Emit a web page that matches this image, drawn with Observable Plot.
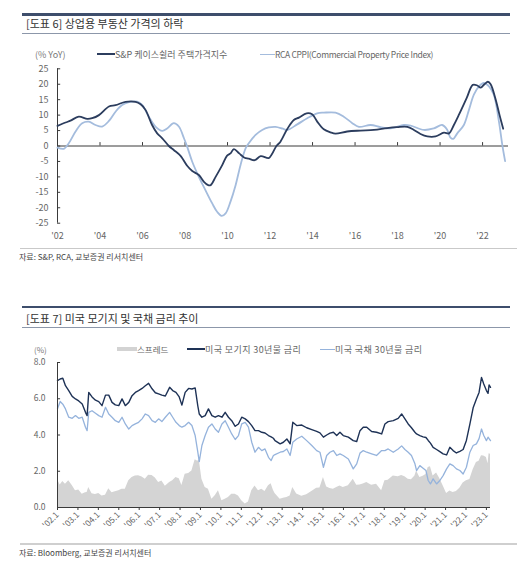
<!DOCTYPE html>
<html><head><meta charset="utf-8">
<script src="https://cdn.jsdelivr.net/npm/d3@7"></script>
<script src="https://cdn.jsdelivr.net/npm/@observablehq/plot@0.6"></script>
<style>
body{margin:0;background:#fff;font-family:"Noto Sans CJK KR","Noto Sans",sans-serif;}
#root{position:relative;width:530px;height:570px;overflow:hidden;background:#fff;}
</style></head><body><div id="root"></div>
<script>
// ---------- Chart 6 data: YoY % ----------
const csYear = [2002.0, 2002.38, 2002.61, 2003.0, 2003.4, 2003.63, 2003.95, 2004.42, 2004.73, 2005.2, 2005.67, 2005.91, 2006.14, 2006.45, 2006.69, 2006.93, 2007.24, 2007.47, 2007.79, 2008.1, 2008.34, 2008.65, 2008.89, 2009.09, 2009.2, 2009.44, 2009.75, 2009.98, 2010.14, 2010.3, 2010.55, 2010.8, 2011.0, 2011.28, 2011.56, 2011.94, 2012.1, 2012.3, 2012.49, 2012.81, 2013.12, 2013.36, 2013.72, 2013.98, 2014.22, 2014.53, 2014.85, 2015.08, 2015.63, 2016.26, 2016.89, 2017.51, 2017.98, 2018.46, 2018.77, 2019.08, 2019.4, 2019.79, 2020.18, 2020.42, 2020.65, 2020.9, 2021.25, 2021.54, 2021.75, 2021.91, 2022.09, 2022.25, 2022.38, 2022.6, 2022.8, 2022.97];
const csValue = [6.5, 7.6, 8.2, 9.5, 8.8, 9.0, 10.0, 12.8, 13.2, 14.3, 14.3, 13.5, 11.7, 6.8, 4.1, 2.5, 0, -1.3, -3.2, -6.4, -8.1, -9.4, -11.6, -12.7, -12.7, -10.0, -6.2, -3.1, -2.4, -1.0, -2.4, -3.8, -4.1, -4.6, -3.3, -3.9, -2.5, 0, 1.4, 5.5, 8.4, 9.2, 10.6, 10.3, 7.9, 5.4, 4.4, 4.0, 4.7, 5.0, 5.2, 5.8, 6.1, 6.2, 5.2, 3.9, 3.1, 3.1, 4.3, 4.1, 6.8, 10.3, 15.5, 19.8, 19.6, 18.9, 20.0, 20.8, 20.0, 15.5, 10.0, 5.6];
const rcaYear = [2002.0, 2002.3, 2002.53, 2002.85, 2003.16, 2003.47, 2003.79, 2004.1, 2004.42, 2004.73, 2005.04, 2005.36, 2005.75, 2005.98, 2006.3, 2006.61, 2006.93, 2007.16, 2007.47, 2007.71, 2007.95, 2008.1, 2008.34, 2008.65, 2008.96, 2009.28, 2009.51, 2009.72, 2009.91, 2010.14, 2010.38, 2010.61, 2010.85, 2011.0, 2011.32, 2011.63, 2011.94, 2012.26, 2012.6, 2012.81, 2013.28, 2013.75, 2014.22, 2014.53, 2015.08, 2015.47, 2015.87, 2016.18, 2016.73, 2017.2, 2017.67, 2018.3, 2018.61, 2019.24, 2019.71, 2020.1, 2020.34, 2020.49, 2020.62, 2020.81, 2021.12, 2021.36, 2021.59, 2021.83, 2022.06, 2022.3, 2022.53, 2022.77, 2022.93, 2023.06];
const rcaValue = [-0.5, -0.9, 0.9, 4.7, 7.4, 7.9, 6.8, 6.3, 8.1, 11.1, 13.3, 14.2, 14.4, 13.3, 9.5, 6.3, 4.9, 5.7, 7.4, 6.3, 2.5, -0.2, -5.1, -10.0, -14.3, -18.6, -21.3, -22.6, -21.8, -18.0, -12.7, -6.2, -0.8, 0.9, 3.6, 5.2, 6.0, 6.2, 5.6, 5.2, 7.0, 9.0, 10.6, 10.8, 10.8, 9.5, 7.4, 6.2, 6.8, 6.1, 5.7, 6.8, 6.6, 5.2, 5.7, 6.8, 5.2, 2.7, 2.3, 4.1, 6.8, 11.7, 16.6, 19.3, 20.4, 19.3, 16.6, 7.9, 0.3, -4.9];
const chart6XTicks = [2002, 2004, 2006, 2008, 2010, 2012, 2014, 2016, 2018, 2020, 2022];
const chart6YTicks = [-25, -20, -15, -10, -5, 0, 5, 10, 15, 20, 25];

// ---------- Chart 7 data: rates % ----------
const rateYear = [2002.0, 2002.13, 2002.26, 2002.39, 2002.55, 2002.72, 2002.88, 2003.04, 2003.21, 2003.37, 2003.45, 2003.53, 2003.69, 2003.86, 2004.02, 2004.18, 2004.35, 2004.51, 2004.67, 2004.83, 2005.0, 2005.16, 2005.32, 2005.49, 2005.65, 2005.81, 2005.97, 2006.14, 2006.3, 2006.46, 2006.63, 2006.79, 2006.95, 2007.11, 2007.28, 2007.49, 2007.64, 2007.8, 2007.96, 2008.09, 2008.25, 2008.42, 2008.58, 2008.74, 2008.87, 2008.94, 2009.07, 2009.23, 2009.39, 2009.56, 2009.72, 2009.88, 2010.05, 2010.21, 2010.37, 2010.53, 2010.7, 2010.86, 2011.02, 2011.19, 2011.35, 2011.51, 2011.67, 2011.84, 2012.0, 2012.16, 2012.33, 2012.46, 2012.57,
  2012.65, 2012.9, 2013.06, 2013.23, 2013.39, 2013.52, 2013.71, 2013.96, 2014.2, 2014.45, 2014.69, 2014.85, 2015.02, 2015.18, 2015.34, 2015.51, 2015.67, 2015.83, 2015.99, 2016.24, 2016.48, 2016.65, 2016.81, 2016.97, 2017.14, 2017.38, 2017.62, 2017.87, 2018.03, 2018.19, 2018.44, 2018.68, 2018.85, 2019.01, 2019.17, 2019.33, 2019.5, 2019.58, 2019.74, 2019.9, 2020.04, 2020.15, 2020.26, 2020.39, 2020.56, 2020.72, 2020.88, 2021.05, 2021.21, 2021.37, 2021.53, 2021.7, 2021.86, 2022.02, 2022.19, 2022.35, 2022.51, 2022.64, 2022.76, 2022.87, 2023.0, 2023.08, 2023.13, 2023.2];
const mortgage30 = [7.0, 7.09, 7.13, 6.72, 6.45, 6.13, 5.99, 5.88, 5.71, 5.25, 5.07, 6.35, 6.1, 5.92, 5.84, 5.62, 6.2, 6.2, 5.8, 5.66, 5.62, 5.99, 5.62, 5.8, 6.17, 6.35, 6.45, 6.57, 6.72, 6.85, 6.55, 6.33, 6.27, 6.2, 6.15, 6.63, 6.45, 6.35, 6.1, 5.65, 6.35, 6.57, 6.54, 6.6, 5.6, 5.16, 4.98, 5.07, 5.44, 5.07, 4.98, 5.07, 4.98, 5.25, 4.98, 4.79, 4.48, 4.61, 4.98, 4.89, 4.74, 4.52, 4.24, 4.24, 4.15, 4.11, 3.97, 3.9, 3.82,
  3.69, 3.51, 3.6, 3.78, 3.51, 4.7, 4.52, 4.55, 4.4, 4.3, 4.2, 4.12, 3.88, 4.0, 4.1, 4.15, 3.97, 4.15, 3.97, 3.88, 3.69, 3.64, 4.24, 4.43, 4.43, 4.19, 4.15, 4.06, 4.61, 4.74, 4.79, 4.92, 5.16, 4.89, 4.61, 4.4, 4.15, 4.06, 3.97, 3.9, 3.86, 3.7, 3.55, 3.32, 3.2, 3.08, 2.96, 2.9, 3.32, 3.14, 3.01, 3.1, 3.2, 3.7, 4.6, 5.5, 5.99, 6.35, 7.18, 6.81, 6.45, 6.3, 6.76, 6.63];
const treasury30 = [5.45, 5.85, 5.7, 5.44, 4.98, 4.92, 5.07, 4.92, 4.98, 4.43, 4.24, 5.25, 5.34, 5.2, 5.07, 4.98, 5.53, 5.16, 4.98, 4.79, 4.7, 4.98, 4.61, 4.33, 4.52, 4.61, 4.7, 4.89, 5.16, 5.07, 4.79, 4.7, 4.89, 4.74, 4.98, 5.25, 4.98, 4.7, 4.52, 4.43, 4.52, 4.7, 4.52, 3.97, 3.05, 2.53, 3.42, 3.97, 4.43, 4.61, 4.33, 4.15, 4.61, 4.79, 4.43, 4.06, 3.75, 3.97, 4.61, 4.7, 4.43, 3.6, 3.05, 3.32, 3.14, 3.23, 2.77, 2.59, 2.87,
  2.92, 3.05, 3.09, 3.23, 2.87, 3.6, 3.78, 3.93, 3.69, 3.42, 3.14, 3.05, 2.22, 2.87, 3.05, 3.14, 2.87, 2.96, 2.87, 2.68, 2.13, 2.41, 3.0, 3.14, 3.05, 2.96, 2.87, 3.14, 3.14, 3.23, 3.05, 3.23, 3.4, 3.2, 3.05, 2.87, 2.41, 2.04, 2.31, 2.17, 2.04, 1.49, 1.3, 1.58, 1.3, 1.49, 1.76, 2.13, 2.41, 2.31, 2.13, 2.04, 1.85, 2.22, 3.05, 3.42, 3.51, 3.8, 4.33, 3.97, 3.69, 3.88, 3.8, 3.69];
const chart7XTicks = [2002, 2003, 2004, 2005, 2006, 2007, 2008, 2009, 2010, 2011, 2012, 2013, 2014, 2015, 2016, 2017, 2018, 2019, 2020, 2021, 2022, 2023];
const chart7YTicks = [0, 2, 4, 6, 8];

// ---------- tables ----------
const csTable = csYear.map((y, i) => ({year: y, value: csValue[i]}));
const rcaTable = rcaYear.map((y, i) => ({year: y, value: rcaValue[i]}));
const rateTable = rateYear.map((y, i) => ({year: y, mortgage: mortgage30[i], treasury: treasury30[i], spread: mortgage30[i] - treasury30[i]}));

const FONT = '"Noto Sans CJK KR","Noto Sans",sans-serif';
const AX = "#3a3a3a";
const root = document.getElementById("root");
function box(css) { const d = document.createElement("div"); d.style.cssText = "position:absolute;" + css; root.appendChild(d); return d; }
function label(str, left, cy, size, color, extra = "") {
  const lh = Math.round(size * 1.4);
  const d = box(`left:${left}px;top:${cy - lh / 2}px;font-size:${size}px;line-height:${lh}px;color:${color};white-space:nowrap;${extra}`);
  d.textContent = str; return d;
}

// ---------- headers ----------
function header(topThick, titleCy, topThin, title) {
  box(`left:22px;top:${topThick}px;width:488px;height:2.5px;background:#3e4e6c;`);
  label(title, 26, titleCy, 11, "#333");
  box(`left:22px;top:${topThin}px;width:488px;height:1.5px;background:#8c97aa;`);
}
header(13, 23, 32.5, "[도표 6] 상업용 부동산 가격의 하락");
header(305.5, 318.5, 326.5, "[도표 7] 미국 모기지 및 국채 금리 추이");

// legend 6
label("(% YoY)", 35, 54, 9, "#777");
box("left:97px;top:53px;width:18px;height:2px;background:#2c3d5e;");
label("S&P 케이스쉴러 주택가격지수", 115, 54, 9, "#666");
box("left:260px;top:53.5px;width:15px;height:1.5px;background:#a4bcdd;");
label("RCA CPPI(Commercial Property Price Index)", 275, 54, 8.5, "#666", "letter-spacing:-0.35px;");

// legend 7
label("(%)", 34, 349, 8, "#777");
box("left:117px;top:347px;width:20px;height:4px;background:#d3d3d3;");
label("스프레드", 137, 349, 8.5, "#666");
box("left:187px;top:348px;width:18px;height:2px;background:#1e3256;");
label("미국 모기지 30년물 금리", 205, 349, 9, "#666", "letter-spacing:0.4px;");
box("left:320px;top:348.5px;width:15px;height:1.5px;background:#95b3dc;");
label("미국 국채 30년물 금리", 335, 349, 9, "#666", "letter-spacing:0.4px;");

// sources
box("left:20px;top:248px;width:497px;height:1px;background:#c9c9c9;");
label("자료: S&P, RCA, 교보증권 리서치센터", 19, 256.5, 8, "#444");
box("left:20px;top:543px;width:497px;height:1.5px;background:#cfcfcf;");
label("자료: Bloomberg, 교보증권 리서치센터", 19, 552, 8, "#444");

// ---------- chart 6 ----------
const plot6 = Plot.plot({
  width: 530, height: 185,
  marginLeft: 57, marginRight: 22, marginTop: 8.3, marginBottom: 22.3,
  style: {fontFamily: FONT, fontSize: "9px", color: "#666", background: "transparent", overflow: "visible"},
  x: {type: "linear", domain: [2002, 2023.22], label: null},
  y: {domain: [-25, 25], label: null},
  marks: [
    Plot.ruleY([0], {stroke: AX, strokeWidth: 1}),
    Plot.ruleX(chart6XTicks, {x: d => d, y1: 0, y2: 1.1, stroke: AX}),
    Plot.ruleX([2002], {stroke: AX}),
    Plot.ruleY(chart6YTicks, {y: d => d, x1: 2002, x2: 2002.15, stroke: AX}),
    Plot.axisY({ticks: chart6YTicks, tickSize: 0, tickPadding: 9, tickFormat: d => String(d), label: null, fill: "#666"}),
    Plot.axisX({ticks: chart6XTicks, tickSize: 0, tickPadding: 9, tickFormat: d => "'" + String(d).slice(2), label: null, fill: "#666"}),
    Plot.line(rcaTable, {x: "year", y: "value", stroke: "#a4bcdd", strokeWidth: 1.8, curve: "catmull-rom"}),
    Plot.line(csTable, {x: "year", y: "value", stroke: "#2c3d5e", strokeWidth: 1.8, curve: "catmull-rom"})
  ]
});
plot6.style.position = "absolute"; plot6.style.left = "0px"; plot6.style.top = "60px";
root.appendChild(plot6);

// ---------- chart 7 ----------
const plot7 = Plot.plot({
  width: 530, height: 185,
  marginLeft: 57, marginRight: 40, marginTop: 7, marginBottom: 33,
  style: {fontFamily: FONT, fontSize: "8.5px", color: "#666", background: "transparent", overflow: "visible"},
  x: {type: "linear", domain: [2002, 2023.2], label: null},
  y: {domain: [0, 8], label: null},
  marks: [
    Plot.areaY(rateTable, {x: "year", y: "spread", fill: "#d4d4d4"}),
    Plot.line(rateTable, {x: "year", y: "treasury", stroke: "#95b3dc", strokeWidth: 1.3}),
    Plot.line(rateTable, {x: "year", y: "mortgage", stroke: "#1e3256", strokeWidth: 1.4}),
    Plot.ruleY([0], {stroke: AX}),
    Plot.ruleX([2002], {stroke: AX}),
    Plot.ruleY(chart7YTicks, {y: d => d, x1: 2002, x2: 2002.15, stroke: AX}),
    Plot.axisY({ticks: chart7YTicks, tickSize: 0, tickPadding: 12, tickFormat: d => d.toFixed(1), label: null, fill: "#666"}),
    Plot.axisX({ticks: chart7XTicks, tickSize: 3, tickPadding: 3, tickRotate: -45, tickFormat: d => "'" + String(d).slice(2) + ".1", label: null, stroke: AX, fill: "#666"})
  ]
});
plot7.style.position = "absolute"; plot7.style.left = "0px"; plot7.style.top = "355px";
root.appendChild(plot7);
</script>
</body></html>
